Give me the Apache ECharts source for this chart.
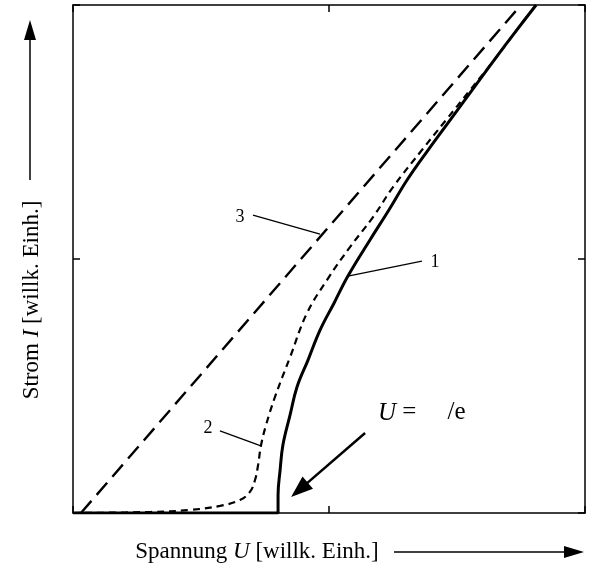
<!DOCTYPE html>
<html><head><meta charset="utf-8">
<script src="https://cdn.jsdelivr.net/npm/echarts@6/dist/echarts.min.js"></script>
<style>html,body{margin:0;padding:0;background:#fff}#c{width:589px;height:575px}</style>
</head><body><div id="c"></div>
<script>
// Axis ranges / ticks (arbitrary units)
const xRange = [0, 2];
const yRange = [0, 2];
const tickStep = 1;

// Curve 1 (solid): U and I values
const curve1U = [0, 0.801, 0.801, 0.809, 0.820, 0.848, 0.875, 0.918, 0.965, 1.020, 1.074, 1.160, 1.234, 1.305, 1.387, 1.473, 1.559, 1.645, 1.734, 1.809];
const curve1I = [0, 0, 0.071, 0.169, 0.268, 0.386, 0.496, 0.602, 0.720, 0.827, 0.933, 1.075, 1.193, 1.311, 1.429, 1.547, 1.665, 1.783, 1.902, 2.0];

// Curve 2 (short dashes)
const curve2U = [0, 0.301, 0.457, 0.574, 0.652, 0.691, 0.711, 0.723, 0.734, 0.754, 0.789, 0.848, 0.914, 0.992, 1.082, 1.172, 1.250, 1.363, 1.457, 1.551, 1.645, 1.734, 1.809];
const curve2I = [0, 0.004, 0.012, 0.028, 0.051, 0.083, 0.130, 0.189, 0.264, 0.346, 0.457, 0.614, 0.787, 0.917, 1.047, 1.165, 1.283, 1.429, 1.547, 1.665, 1.783, 1.902, 2.0];

// Curve 3 (long dashes, straight line)
const curve3U = [0.031, 1.75];
const curve3I = [0, 2.0];

// Annotation labels (text, anchor in data units) and leader lines
const labelTexts = ['1', '2', '3'];
const labelPos = [[1.414, 0.988], [0.527, 0.335], [0.652, 1.165]];
const leaderFrom = [[1.363, 0.992], [0.574, 0.323], [0.703, 1.173]];
const leaderTo = [[1.074, 0.933], [0.734, 0.264], [0.965, 1.098]];
const formulaPos = [1.191, 0.394];
const formulaArrowFrom = [1.141, 0.315];
const formulaArrowTo = [0.852, 0.063];

const xTitle = 'Spannung {i|U} [willk. Einh.]';
const yTitle = 'Strom {i|I} [willk. Einh.]';

const zip = (a, b) => a.map((v, i) => [v, b[i]]);
const FONT = '"Liberation Serif", "DejaVu Serif", serif';

const chart = echarts.init(document.getElementById('c'));
function axis(pos, range) {
  return {
    type: 'value', interval: tickStep, min: range[0], max: range[1], position: pos,
    axisLine: { show: true, onZero: false, lineStyle: { color: '#000', width: 1.5 } },
    axisTick: { show: true, inside: true, length: 7, lineStyle: { color: '#000', width: 1.5 } },
    axisLabel: { show: false }, splitLine: { show: false }
  };
}
chart.setOption({
  animation: false,
  backgroundColor: '#fff',
  grid: { left: 73, right: 4, top: 5, bottom: 62 },
  xAxis: [axis('bottom', xRange), axis('top', xRange)],
  yAxis: [axis('left', yRange), axis('right', yRange)],
  series: [
    { type: 'line', data: zip(curve3U, curve3I), showSymbol: false, clip: true,
      lineStyle: { color: '#000', width: 2.4, type: [16, 8] } },
    { type: 'line', data: zip(curve2U, curve2I), showSymbol: false, smooth: 0.4, clip: true,
      lineStyle: { color: '#000', width: 2.2, type: [7, 5] } },
    { type: 'line', data: zip(curve1U, curve1I), showSymbol: false, smooth: 0.4, clip: true,
      lineStyle: { color: '#000', width: 3 } }
  ]
});

function px(p) { return chart.convertToPixel({ xAxisIndex: 0, yAxisIndex: 0 }, p); }
function arrow(x1, y1, x2, y2, len, half, w) {
  const dx = x2 - x1, dy = y2 - y1, L = Math.hypot(dx, dy), ux = dx / L, uy = dy / L;
  const bx = x2 - ux * len, by = y2 - uy * len;
  return [
    { type: 'line', shape: { x1: x1, y1: y1, x2: bx + ux * 2, y2: by + uy * 2 }, style: { stroke: '#000', lineWidth: w } },
    { type: 'polygon', shape: { points: [[x2, y2], [bx - uy * half, by + ux * half], [bx + uy * half, by - ux * half]] }, style: { fill: '#000' } }
  ];
}

const g = [];
labelTexts.forEach((t, i) => {
  const p = px(labelPos[i]);
  g.push({ type: 'text', x: p[0], y: p[1], style: { text: t, font: '18px ' + FONT, fill: '#000', align: 'center', verticalAlign: 'middle' } });
  const a = px(leaderFrom[i]), b = px(leaderTo[i]);
  g.push({ type: 'line', shape: { x1: a[0], y1: a[1], x2: b[0], y2: b[1] }, style: { stroke: '#000', lineWidth: 1.3 } });
});
const fp = px(formulaPos);
g.push({ type: 'text', x: fp[0], y: fp[1], style: {
  text: '{i|U} =     /e', fill: '#000', font: '25px ' + FONT, align: 'left', verticalAlign: 'middle',
  rich: { i: { fontStyle: 'italic', fontSize: 25, fontFamily: FONT } } } });
const af = px(formulaArrowFrom), at = px(formulaArrowTo);
g.push(...arrow(af[0], af[1], at[0], at[1], 22, 8, 2.5));

// axis titles with arrows
g.push({ type: 'text', x: 257, y: 552, style: {
  text: xTitle, fill: '#000', font: '23px ' + FONT, align: 'center', verticalAlign: 'middle',
  rich: { i: { fontStyle: 'italic', fontSize: 23, fontFamily: FONT } } } });
g.push(...arrow(394, 552, 584, 552, 20, 6, 1.5));
g.push({ type: 'text', x: 32, y: 300, rotation: Math.PI / 2, style: {
  text: yTitle, fill: '#000', font: '23px ' + FONT, align: 'center', verticalAlign: 'middle',
  rich: { i: { fontStyle: 'italic', fontSize: 23, fontFamily: FONT } } } });
g.push(...arrow(30, 180, 30, 20, 20, 6, 1.5));

chart.setOption({ graphic: g });
</script>
</body></html>
